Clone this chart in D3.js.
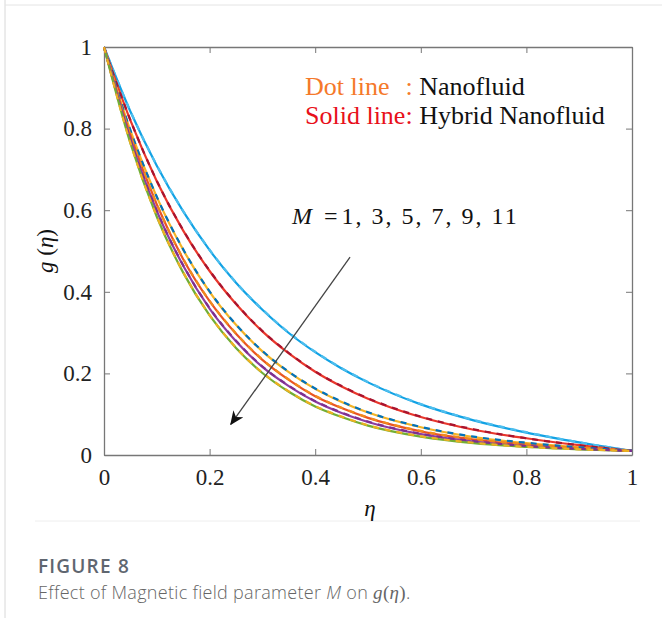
<!DOCTYPE html>
<html>
<head>
<meta charset="utf-8">
<script src="https://cdn.jsdelivr.net/npm/d3@7"></script>
<style>
  body { margin: 0; background: #fff; }
  .axis path, .axis line { stroke: #777; }
  .axis text { font-family: "Liberation Serif", serif; font-size: 23px; fill: #222; }
</style>
</head>
<body>
<svg id="chart" width="662" height="618"></svg>
<script>
// eta grid and curves (one per M value)
var eta = [0, 0.05, 0.1, 0.15, 0.2, 0.25, 0.3, 0.35, 0.4, 0.45, 0.5, 0.6, 0.7, 0.8, 0.9, 1];
var mValues = [1, 3, 5, 7, 9, 11];

// solid lines: hybrid nanofluid
var hybrid = [
  [1, .842, .709, .597, .502, .422, .356, .299, .252, .212, .178, .124, .085, .055, .031, .010],
  [1, .820, .671, .550, .451, .370, .303, .249, .204, .168, .138, .093, .062, .041, .024, .010],
  [1, .795, .632, .503, .400, .319, .254, .203, .162, .130, .104, .068, .044, .029, .019, .010],
  [1, .784, .614, .480, .377, .297, .233, .184, .144, .115, .091, .058, .038, .025, .017, .010],
  [1, .774, .598, .464, .359, .279, .216, .169, .131, .103, .081, .051, .033, .022, .015, .010],
  [1, .764, .584, .447, .342, .262, .201, .155, .119, .093, .072, .045, .029, .020, .014, .010]
];
// dashed lines: nanofluid (nearly on top of the solid ones)
var nano = [
  [1, .843, .710, .598, .503, .423, .357, .300, .253, .213, .179, .125, .086, .056, .031, .010],
  [1, .821, .672, .551, .452, .371, .304, .250, .205, .169, .139, .094, .063, .041, .024, .010],
  [1, .796, .633, .504, .401, .320, .255, .204, .163, .131, .105, .069, .045, .030, .019, .010],
  [1, .785, .615, .481, .378, .298, .234, .185, .145, .116, .092, .059, .039, .026, .017, .010],
  [1, .775, .599, .465, .360, .280, .217, .170, .132, .104, .082, .052, .034, .022, .015, .010],
  [1, .765, .585, .448, .343, .263, .202, .156, .120, .094, .073, .046, .030, .020, .014, .010]
];

var solidColors  = ["#12a2e4", "#e8372c", "#f2b326", "#ea5522", "#8c3da2", "#72ae34"];
var dashedColors = ["#4dbeee", "#a8142f", "#0072bd", "#f08a1c", "#7e2f8e", "#edb120"];

var xTicks = [0, 0.2, 0.4, 0.6, 0.8, 1],
    yTicks = [0, 0.2, 0.4, 0.6, 0.8, 1];

var svg = d3.select("#chart"),
    margin = {top: 47, left: 104},
    width  = 528,
    height = 408;

// page frame + separator
svg.append("line").attr("x1", 5).attr("x2", 5).attr("y1", 0).attr("y2", 618)
  .attr("stroke", "#d8d8d8");
svg.append("line").attr("x1", 5).attr("x2", 662).attr("y1", 5).attr("y2", 5)
  .attr("stroke", "#e4e4e4");
svg.append("line").attr("x1", 35).attr("x2", 640).attr("y1", 521).attr("y2", 521)
  .attr("stroke", "#eeeeee");

var x = d3.scaleLinear().domain([0, 1]).range([0, width]),
    y = d3.scaleLinear().domain([0, 1]).range([height, 0]);

var g = svg.append("g")
    .attr("transform", "translate(" + margin.left + "," + margin.top + ")");

var fmt = function(d) { return d3.format("")(d); };

g.append("g")
    .attr("class", "axis")
    .attr("transform", "translate(0," + height + ")")
    .call(d3.axisBottom(x).tickValues(xTicks).tickSizeInner(-6).tickSizeOuter(0).tickPadding(14).tickFormat(fmt));
g.append("g")
    .attr("class", "axis")
    .call(d3.axisLeft(y).tickValues(yTicks).tickSizeInner(-6).tickSizeOuter(0).tickPadding(12).tickFormat(fmt));
g.append("g")
    .attr("class", "axis")
    .call(d3.axisTop(x).tickValues(xTicks).tickSizeInner(-6).tickSizeOuter(0).tickFormat(""));
g.append("g")
    .attr("class", "axis")
    .attr("transform", "translate(" + width + ",0)")
    .call(d3.axisRight(y).tickValues(yTicks).tickSizeInner(-6).tickSizeOuter(0).tickFormat(""));

g.selectAll(".axis .domain").attr("stroke-width", 1.3);

var line = d3.line()
    .curve(d3.curveMonotoneX)
    .x(function(d, i) { return x(eta[i]); })
    .y(function(d) { return y(d); });

g.selectAll(".hyb")
  .data(hybrid)
  .enter().append("path")
    .attr("class", "hyb")
    .attr("fill", "none")
    .attr("stroke", function(d, i) { return solidColors[i]; })
    .attr("stroke-width", 2.2)
    .attr("d", line);

g.selectAll(".nano")
  .data(nano)
  .enter().append("path")
    .attr("class", "nano")
    .attr("fill", "none")
    .attr("stroke", function(d, i) { return dashedColors[i]; })
    .attr("stroke-width", 2.2)
    .attr("stroke-dasharray", "6,6")
    .attr("d", line);

// arrow across the curves (direction of increasing M)
var defs = svg.append("defs");
defs.append("marker")
    .attr("id", "head")
    .attr("viewBox", "0 0 14 12")
    .attr("refX", 13).attr("refY", 6)
    .attr("markerWidth", 14).attr("markerHeight", 12)
    .attr("markerUnits", "userSpaceOnUse")
    .attr("orient", "auto")
  .append("path")
    .attr("d", "M0,0 L14,6 L0,12 L4,6 Z")
    .attr("fill", "#111");

g.append("line")
    .attr("x1", x(0.466)).attr("y1", y(0.485))
    .attr("x2", x(0.24)).attr("y2", y(0.075))
    .attr("stroke", "#444")
    .attr("stroke-width", 1.3)
    .attr("marker-end", "url(#head)");

// legend text
var serif = "'Liberation Serif', 'Times New Roman', serif";
var leg1 = svg.append("text").attr("x", 305).attr("y", 95)
    .style("font-family", serif).style("font-size", "26px");
leg1.append("tspan").attr("fill", "#f5792a").text("Dot line");
leg1.append("tspan").attr("fill", "#f5792a").attr("dx", 16).text(":");
leg1.append("tspan").attr("fill", "#111").text(" Nanofluid");

var leg2 = svg.append("text").attr("x", 305).attr("y", 124)
    .style("font-family", serif).style("font-size", "26px");
leg2.append("tspan").attr("fill", "#e8101a").text("Solid line:");
leg2.append("tspan").attr("fill", "#111").text(" Hybrid Nanofluid");

var ann = svg.append("text").attr("x", 292).attr("y", 224)
    .style("font-family", serif).style("font-size", "24px").attr("fill", "#111");
ann.append("tspan").style("font-style", "italic").text("M");
ann.append("tspan").attr("dx", 12).text("=");
ann.append("tspan").attr("dx", 4).style("letter-spacing", "2px").text(mValues.join(", "));

// axis titles
svg.append("text")
    .attr("transform", "translate(53,251) rotate(-90)")
    .attr("text-anchor", "middle")
    .style("font-family", serif).style("font-size", "23px").attr("fill", "#111")
    .html("<tspan font-style='italic'>g</tspan> (<tspan font-style='italic'>η</tspan>)");

svg.append("text")
    .attr("x", 370).attr("y", 516)
    .attr("text-anchor", "middle")
    .style("font-family", serif).style("font-size", "23px").style("font-style", "italic")
    .attr("fill", "#111")
    .text("η");

// caption
svg.append("text")
    .attr("x", 38).attr("y", 573)
    .style("font-family", "'Open Sans', sans-serif").style("font-size", "19px")
    .style("font-weight", 600).style("letter-spacing", "1.2px").attr("fill", "#5f6670")
    .text("FIGURE 8");

var cap = svg.append("text")
    .attr("x", 38).attr("y", 599)
    .style("font-family", "'Open Sans', sans-serif").style("font-size", "18px")
    .style("font-weight", 300).style("letter-spacing", "0.3px").attr("fill", "#666");
cap.append("tspan").text("Effect of Magnetic field parameter ");
cap.append("tspan").style("font-style", "italic").text("M");
cap.append("tspan").text(" on ");
cap.append("tspan").style("font-style", "italic").style("font-family", serif).style("font-size", "19px").text("g");
cap.append("tspan").style("font-family", serif).style("font-size", "19px").text("(");
cap.append("tspan").style("font-style", "italic").style("font-family", serif).style("font-size", "19px").text("η");
cap.append("tspan").style("font-family", serif).style("font-size", "19px").text(")");
cap.append("tspan").text(".");
</script>
</body>
</html>
